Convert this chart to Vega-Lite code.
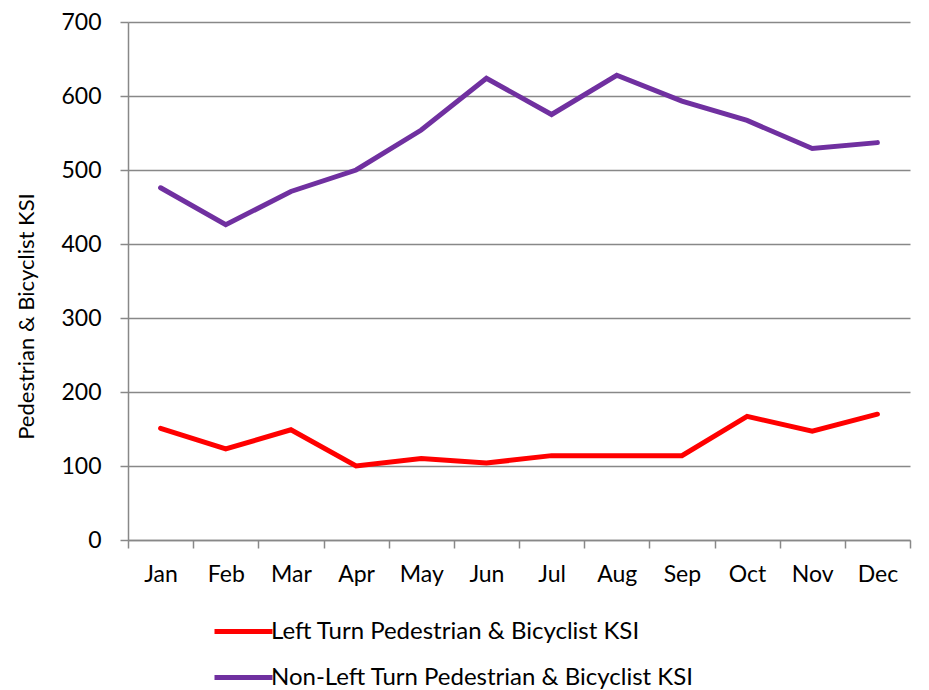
{
  "$schema": "https://vega.github.io/schema/vega-lite/v6.json",
  "width": 782,
  "height": 518,
  "autosize": "none",
  "padding": {"left": 128, "top": 22, "right": 19, "bottom": 150},
  "background": "white",
  "config": {
    "font": "Lato",
    "view": {"stroke": null}
  },
  "data": {
    "values": [
      {"month": "Jan", "series": "Left Turn Pedestrian & Bicyclist KSI", "value": 151},
      {"month": "Feb", "series": "Left Turn Pedestrian & Bicyclist KSI", "value": 123},
      {"month": "Mar", "series": "Left Turn Pedestrian & Bicyclist KSI", "value": 149},
      {"month": "Apr", "series": "Left Turn Pedestrian & Bicyclist KSI", "value": 100},
      {"month": "May", "series": "Left Turn Pedestrian & Bicyclist KSI", "value": 110},
      {"month": "Jun", "series": "Left Turn Pedestrian & Bicyclist KSI", "value": 104},
      {"month": "Jul", "series": "Left Turn Pedestrian & Bicyclist KSI", "value": 114},
      {"month": "Aug", "series": "Left Turn Pedestrian & Bicyclist KSI", "value": 114},
      {"month": "Sep", "series": "Left Turn Pedestrian & Bicyclist KSI", "value": 114},
      {"month": "Oct", "series": "Left Turn Pedestrian & Bicyclist KSI", "value": 167},
      {"month": "Nov", "series": "Left Turn Pedestrian & Bicyclist KSI", "value": 147},
      {"month": "Dec", "series": "Left Turn Pedestrian & Bicyclist KSI", "value": 170},
      {"month": "Jan", "series": "Non-Left Turn Pedestrian & Bicyclist KSI", "value": 476},
      {"month": "Feb", "series": "Non-Left Turn Pedestrian & Bicyclist KSI", "value": 426},
      {"month": "Mar", "series": "Non-Left Turn Pedestrian & Bicyclist KSI", "value": 471},
      {"month": "Apr", "series": "Non-Left Turn Pedestrian & Bicyclist KSI", "value": 500},
      {"month": "May", "series": "Non-Left Turn Pedestrian & Bicyclist KSI", "value": 554},
      {"month": "Jun", "series": "Non-Left Turn Pedestrian & Bicyclist KSI", "value": 624},
      {"month": "Jul", "series": "Non-Left Turn Pedestrian & Bicyclist KSI", "value": 575},
      {"month": "Aug", "series": "Non-Left Turn Pedestrian & Bicyclist KSI", "value": 628},
      {"month": "Sep", "series": "Non-Left Turn Pedestrian & Bicyclist KSI", "value": 593},
      {"month": "Oct", "series": "Non-Left Turn Pedestrian & Bicyclist KSI", "value": 567},
      {"month": "Nov", "series": "Non-Left Turn Pedestrian & Bicyclist KSI", "value": 529},
      {"month": "Dec", "series": "Non-Left Turn Pedestrian & Bicyclist KSI", "value": 537}
    ]
  },
  "mark": {"type": "line", "strokeWidth": 5, "strokeJoin": "miter", "strokeCap": "round"},
  "encoding": {
    "x": {
      "field": "month",
      "type": "ordinal",
      "sort": ["Jan","Feb","Mar","Apr","May","Jun","Jul","Aug","Sep","Oct","Nov","Dec"],
      "scale": {"paddingInner": 0, "paddingOuter": 0},
      "axis": {
        "title": null,
        "labelAngle": 0,
        "labelFontSize": 23,
        "labelColor": "black",
        "labelPadding": 15,
        "tickBand": "extent",
        "tickSize": 8,
        "tickColor": "#888888",
        "tickWidth": 1.5,
        "domainColor": "#888888",
        "domainWidth": 1.5,
        "grid": false
      }
    },
    "y": {
      "field": "value",
      "type": "quantitative",
      "scale": {"domain": [0, 700], "nice": false},
      "axis": {
        "title": "Pedestrian & Bicyclist KSI",
        "titleFontSize": 22,
        "titleFontWeight": "normal",
        "titleColor": "black",
        "titleX": -90,
        "titleY": 294,
        "values": [0,100,200,300,400,500,600,700],
        "labelFontSize": 23,
        "labelColor": "black",
        "labelPadding": 19,
        "tickSize": 8,
        "tickColor": "#888888",
        "tickWidth": 1.5,
        "domainColor": "#888888",
        "domainWidth": 1.5,
        "grid": true,
        "gridColor": "#888888",
        "gridWidth": 1.5
      }
    },
    "color": {
      "field": "series",
      "type": "nominal",
      "scale": {
        "domain": ["Left Turn Pedestrian & Bicyclist KSI", "Non-Left Turn Pedestrian & Bicyclist KSI"],
        "range": ["#FF0000", "#7030A0"]
      },
      "legend": {
        "title": null,
        "orient": "none",
        "legendX": 84,
        "legendY": 578,
        "direction": "vertical",
        "symbolType": "stroke",
        "symbolSize": 3364,
        "symbolStrokeWidth": 5,
        "labelFontSize": 24,
        "labelColor": "black",
        "labelOffset": -4,
        "rowPadding": 2,
        "padding": 0,
        "labelLimit": 700
      }
    }
  }
}
